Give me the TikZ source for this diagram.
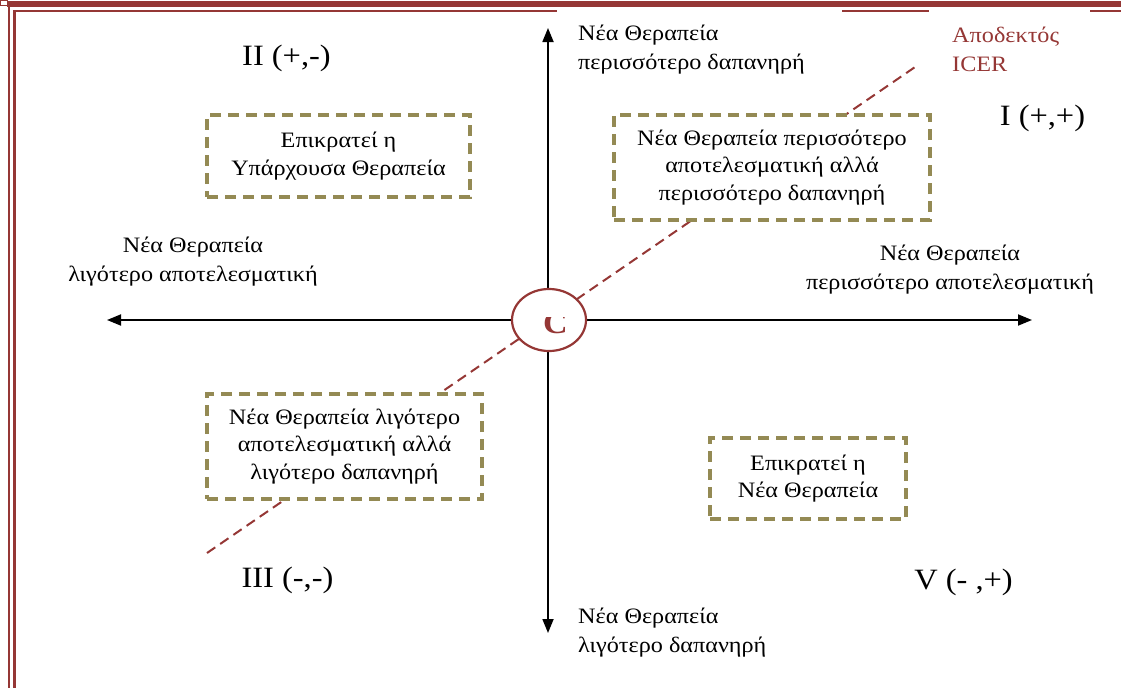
\documentclass[tikz,border=0pt]{standalone}
\usepackage{fontspec}
\setmainfont{Liberation Serif}[FakeStretch=1.1]
\usetikzlibrary{arrows.meta,shapes.geometric}
\definecolor{bred}{HTML}{953735}
\definecolor{olivebox}{HTML}{948A54}
\begin{document}
\begin{tikzpicture}[x=1pt,y=-1pt,
  qbox/.style={draw=olivebox, line width=3.2pt, dash pattern=on 11pt off 7pt, fill=white, align=center, font=\fontsize{22}{27.5}\selectfont, inner sep=0pt},
  lbl/.style={font=\fontsize{22}{29}\selectfont, inner sep=0pt},
  quad/.style={font=\fontsize{29.5}{32}\selectfont, inner sep=0pt},
  axis/.style={line width=1.8pt, {Triangle[length=14pt,width=11pt]}-{Triangle[length=14pt,width=11pt]}},
  icer/.style={draw=bred, line width=2pt, dash pattern=on 10pt off 6pt},
  frame/.style={draw=bred}
]
\useasboundingbox (0,0) rectangle (1121,688);
% frame
\draw[frame, line width=0.8pt] (0.5,0.5) rectangle (7,5);
\draw[frame, line width=6pt] (7,4) -- (1121,4);
\draw[frame, line width=2.5pt] (9,4) -- (9,688);
\draw[frame, line width=3pt] (14.5,10) -- (14.5,688);
\draw[frame, line width=2.5pt] (13,11) -- (557,11);
\draw[frame, line width=2.5pt] (842,11) -- (929,11);
\draw[frame, line width=2.5pt] (1090,11) -- (1121,11);
% coordinates
\coordinate (axL) at (107,320);
\coordinate (axR) at (1032,320);
\coordinate (axT) at (548,28);
\coordinate (axB) at (548,633);
\coordinate (icerA) at (207,553);
\coordinate (icerB) at (918,65);
% axes and ICER line
\draw[axis] (axL) -- (axR);
\draw[axis] (axB) -- (axT);
\draw[icer] (icerA) -- (icerB);
% boxes
\node[qbox, minimum width=263pt, minimum height=82pt] (tl) at (338.5,156) {Επικρατεί η\\Υπάρχουσα Θεραπεία};
\node[qbox, minimum width=316pt, minimum height=105pt] (tr) at (772,167.5) {Νέα Θεραπεία περισσότερο\\αποτελεσματική αλλά\\περισσότερο δαπανηρή};
\node[qbox, minimum width=275pt, minimum height=105pt] (bl) at (344.5,446.5) {Νέα Θεραπεία λιγότερο\\αποτελεσματική αλλά\\λιγότερο δαπανηρή};
\node[qbox, minimum width=196pt, minimum height=81pt] (br) at (808,478.5) {Επικρατεί η\\Νέα Θεραπεία};
% centre
\node[ellipse, draw=bred, line width=2.2pt, fill=white, minimum width=74pt, minimum height=62pt] (c) at (549,320) {};
\begin{scope}
\clip (530,317.5) rectangle (575,345);
\node[text=bred, font=\bfseries\fontsize{31}{31}\selectfont, anchor=base, inner sep=0pt] (cl) at (555.5,333.5) {C};
\end{scope}
% axis labels
\node[lbl, align=left, anchor=west] (lt) at (578,50) {Νέα Θεραπεία\\περισσότερο δαπανηρή};
\node[lbl, align=center] (ll) at (193,262) {Νέα Θεραπεία\\λιγότερο αποτελεσματική};
\node[lbl, align=center] (lr) at (950,270) {Νέα Θεραπεία\\περισσότερο αποτελεσματική};
\node[lbl, align=left, anchor=west] (lb) at (578,633) {Νέα Θεραπεία\\λιγότερο δαπανηρή};
\node[lbl, align=left, anchor=west, text=bred] (li) at (952,49) {Αποδεκτός\\ICER};
% quadrant labels
\node[quad] (q2) at (286.5,58) {II (+,-)};
\node[quad] (q1) at (1042.5,118) {I (+,+)};
\node[quad] (q3) at (287.5,580) {III (-,-)};
\node[quad] (q5) at (963.5,582) {V (- ,+)};
\end{tikzpicture}
\end{document}
